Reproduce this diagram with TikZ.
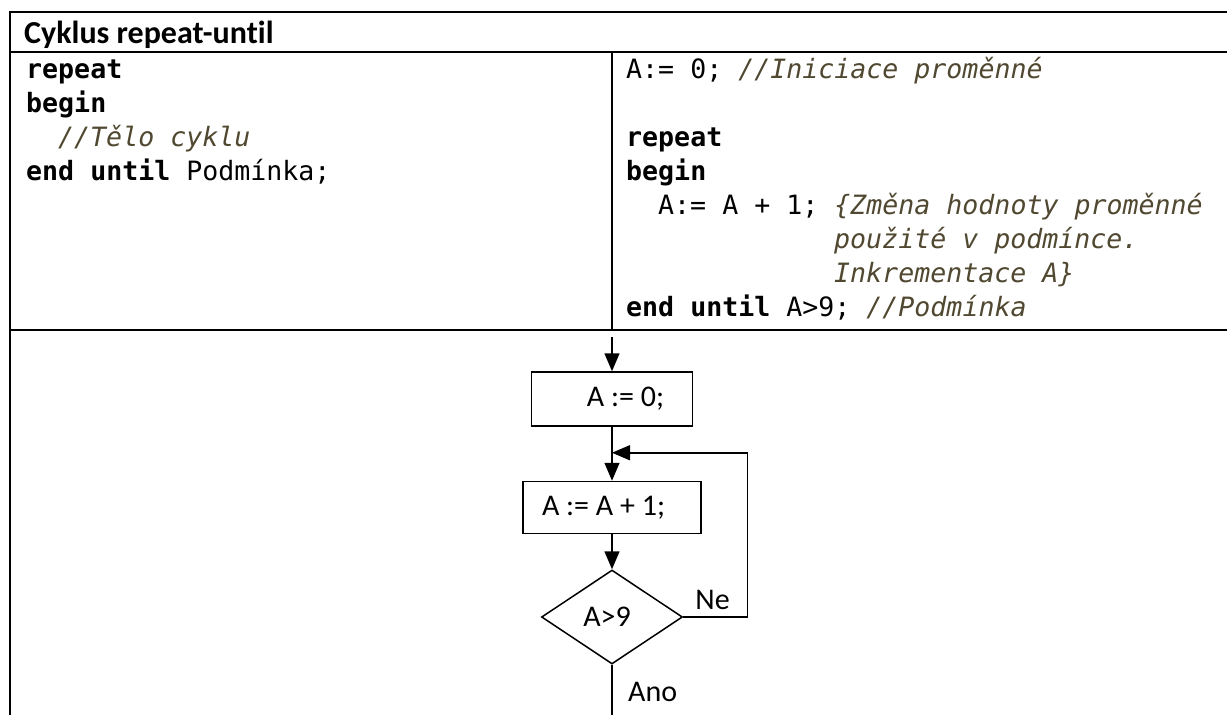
\documentclass[tikz,border=0pt]{standalone}
\usepackage{fontspec}
\setmainfont{Carlito}[Ligatures=NoCommon]
\setmonofont{DejaVu Sans Mono}
\usepackage{xcolor}
\usepackage{tikz}
\usetikzlibrary{positioning, arrows.meta, shapes.geometric}

\definecolor{cmtolive}{RGB}{80,72,48}
\newcommand{\kw}[1]{\textbf{#1}}
\newcommand{\cmt}[1]{\textcolor{cmtolive}{\itshape #1}}

\begin{document}
\frenchspacing
\begin{tikzpicture}[x=1pt, y=-1pt,
  tabline/.style={line width=2.4pt},
  heading/.style={anchor=base west, inner sep=0pt, font=\fontsize{32}{36}\selectfont\bfseries},
  src/.style={anchor=base west, inner sep=0pt, font=\fontsize{26.6}{34}\selectfont\ttfamily},
  proc/.style={rectangle, draw, line width=1.5pt, font=\fontsize{30}{36}\selectfont},
  cond/.style={diamond, draw, line width=1.5pt, inner sep=0pt, minimum width=141pt, minimum height=94pt, font=\fontsize{30}{36}\selectfont},
  flowtxt/.style={inner sep=0pt, font=\fontsize{30}{36}\selectfont},
  flow/.style={-{Triangle[length=18pt, width=15pt]}, line width=1.5pt},
  link/.style={line width=1.5pt}]
\useasboundingbox (0,0) rectangle (1227,715);

% Table
\draw[tabline] (1227,12) -- (10,12) -- (10,715);
\draw[tabline] (10,52) -- (1227,52);
\draw[tabline] (10,330) -- (1227,330);
\draw[tabline] (612,52) -- (612,330);

\node[heading] (title) at (24,43) {Cyklus repeat-until};

% Left column
\node[src] (l1) at (26,78) {\kw{repeat}};
\node[src] (l2) at (26,112) {\kw{begin}};
\node[src] (l3) at (58,146) {\cmt{//Tělo cyklu}};
\node[src] (l4) at (26,180) {\kw{end until} Podmínka;};

% Right column
\node[src] (r1) at (626,78) {A:= 0; \cmt{//Iniciace proměnné}};
\node[src] (r2) at (626,146) {\kw{repeat}};
\node[src] (r3) at (626,180) {\kw{begin}};
\node[src] (r4) at (658,214) {A:= A + 1; \cmt{\{Změna hodnoty proměnné}};
\node[src] (r5) at (834,248) {\cmt{použité v podmínce.}};
\node[src] (r6) at (834,282) {\cmt{Inkrementace A\}}};
\node[src] (r7) at (626,316) {\kw{end until} A>9; \cmt{//Podmínka}};

% Flowchart
\coordinate (entry) at (612,337);
\node[proc, minimum width=161pt, minimum height=54pt] (init) at (612,399) {\hspace*{27pt}A := 0;};
\node[proc, minimum width=178pt, minimum height=52pt, below=54pt of init] (inc) {A := A + 1;\hspace*{17pt}};
\node[cond, below=35pt of inc] (test) {A>9\hspace*{10pt}};
\coordinate[below=26pt of init.south] (join);
\coordinate[right=64pt of test.east] (back);
\coordinate[below=52pt of test.south] (exit);

\draw[flow] (entry) -- (init);
\draw[flow] (init) -- (inc);
\draw[flow] (inc) -- (test);
\draw[flow] (test.east) -- (back) |- (join);
\draw[link] (test) -- (exit);

% Branch labels
\node[flowtxt, above right=7pt and 12pt of test.east] (ne) {Ne};
\node[flowtxt, below right=17pt and 16pt of test.south] (ano) {Ano};

\end{tikzpicture}
\end{document}
